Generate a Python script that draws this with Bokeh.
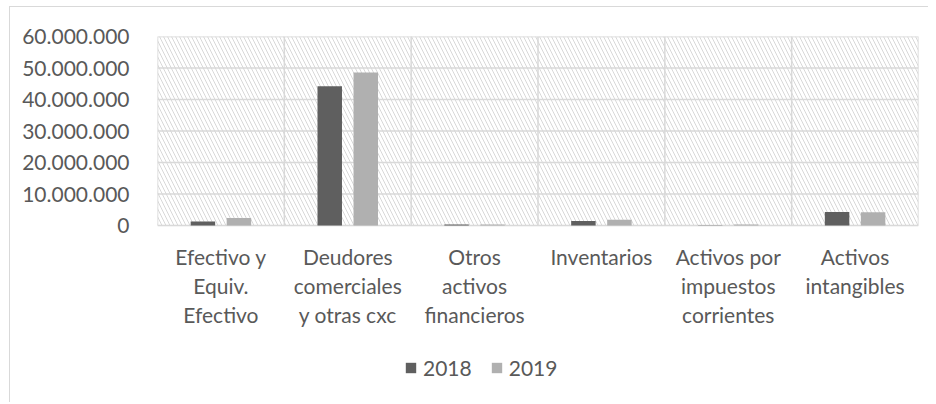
from bokeh.plotting import figure
from bokeh.models import Range1d, FixedTicker, BoxAnnotation, Legend, LegendItem, ColumnDataSource
from bokeh.core.properties import value
from bokeh.embed import file_html
from bokeh.resources import INLINE

categories = [
    "Efectivo y\nEquiv.\nEfectivo",
    "Deudores\ncomerciales\ny otras cxc",
    "Otros\nactivos\nfinancieros",
    "Inventarios",
    "Activos por\nimpuestos\ncorrientes",
    "Activos\nintangibles",
]
values_2018 = [1.3e6, 44.2e6, 0.35e6, 1.4e6, 0.05e6, 4.3e6]
values_2019 = [2.4e6, 48.6e6, 0.3e6, 1.8e6, 0.3e6, 4.2e6]
series_names = ["2018", "2019"]
series_colors = ["#5f5f5f", "#b0b0b0"]
y_ticks = [0, 10e6, 20e6, 30e6, 40e6, 50e6, 60e6]
y_tick_labels = ["0", "10.000.000", "20.000.000", "30.000.000", "40.000.000", "50.000.000", "60.000.000"]

FONT = "Lato"
TXT = "#595959"
GRID = "#d9d9d9"
FS = "21px"

n = len(categories)
y_max = y_ticks[-1]
centers = [i + 0.5 for i in range(n)]
offset = 0.142
bar_w = 0.193

# layout (pixels): value area 189px tall, extra room below it for labels and legend
AREA_H = 189
FRAME_H = 364
y_start = -(FRAME_H - AREA_H) / AREA_H * y_max

src = ColumnDataSource(data=dict(
    x18=[c - offset for c in centers],
    x19=[c + offset for c in centers],
    v18=values_2018,
    v19=values_2019,
    cx=centers,
    cy=[0] * n,
    lab=categories,
))

p = figure(frame_width=761, frame_height=FRAME_H, x_range=Range1d(0, n), y_range=Range1d(y_start, y_max),
           output_backend="svg", toolbar_location=None,
           min_border_left=147, min_border_right=10, min_border_top=29, min_border_bottom=2)
p.styles = {"margin-left": "9px", "margin-top": "6px",
            "border-left": "1px solid #d9d9d9", "border-top": "1px solid #d9d9d9"}
p.background_fill_color = "white"
p.border_fill_color = "white"
p.outline_line_color = None
p.xgrid.visible = False
p.ygrid.visible = False
p.xaxis.visible = False

bg = BoxAnnotation(left=0, right=n, bottom=0, top=y_max,
                   fill_color="white", fill_alpha=1.0, line_color=GRID, line_width=1.5,
                   hatch_pattern="left_diagonal_line", hatch_color="#d4d4d4",
                   hatch_weight=1.0, hatch_scale=8, hatch_alpha=0.9, level="image")
p.add_layout(bg)

# grid lines over the value area only
bounds = list(range(n + 1))
p.segment(x0=bounds, x1=bounds, y0=[0] * len(bounds), y1=[y_max] * len(bounds),
          line_color=GRID, line_width=1.5, level="underlay")
p.segment(x0=[0] * len(y_ticks), x1=[n] * len(y_ticks), y0=y_ticks, y1=y_ticks,
          line_color=GRID, line_width=1.5, level="underlay")

r18 = p.vbar(x="x18", top="v18", width=bar_w, source=src, fill_color=series_colors[0], line_color=None)
r19 = p.vbar(x="x19", top="v19", width=bar_w, source=src, fill_color=series_colors[1], line_color=None)

# category labels under each group
p.text(x="cx", y="cy", text="lab", source=src, y_offset=18,
       text_font=value(FONT), text_font_size=value(FS), text_color=TXT,
       text_align="center", text_baseline="top", text_line_height=1.17)

ya = p.yaxis[0]
ya.ticker = FixedTicker(ticks=y_ticks)
ya.major_label_overrides = {t: lab for t, lab in zip(y_ticks, y_tick_labels)}
ya.axis_line_color = None
ya.major_tick_line_color = None
ya.minor_tick_line_color = None
ya.major_label_text_font = FONT
ya.major_label_text_font_size = FS
ya.major_label_text_color = TXT
ya.major_label_standoff = 22

legend = Legend(items=[LegendItem(label=series_names[0], renderers=[r18]),
                       LegendItem(label=series_names[1], renderers=[r19])],
                orientation="horizontal", location=(247, 20),
                label_text_font=FONT, label_text_font_size=FS, label_text_color=TXT,
                glyph_width=13, glyph_height=13, label_standoff=6, spacing=18,
                padding=0, margin=0, border_line_color=None, background_fill_alpha=0)
p.add_layout(legend, "center")

open("out.html", "w").write(file_html(p, INLINE))
